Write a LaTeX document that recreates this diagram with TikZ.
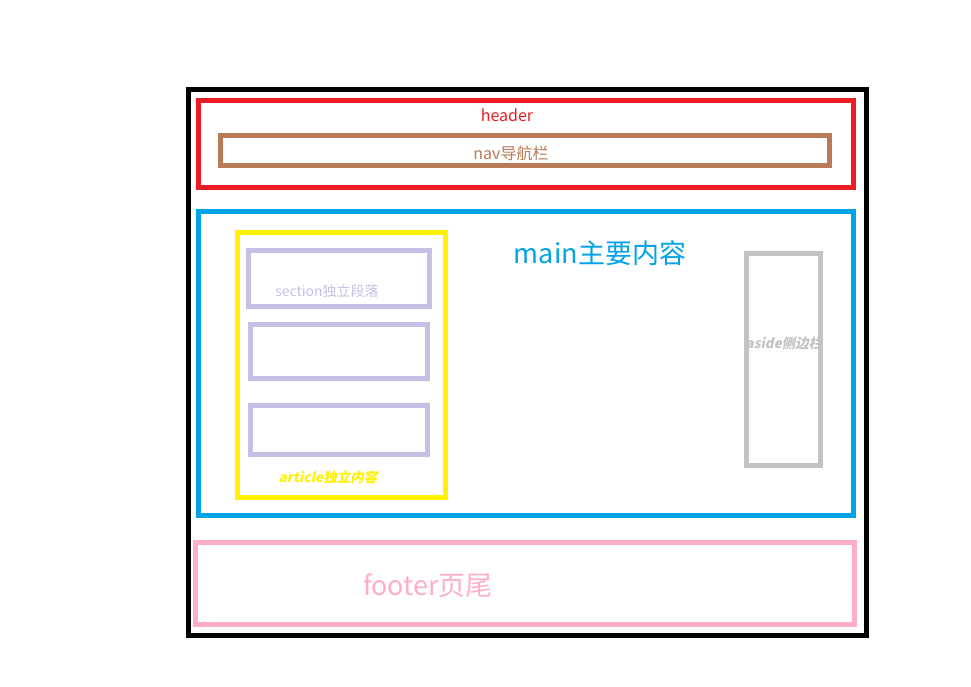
\documentclass[tikz,border=0pt]{standalone}
\usepackage{fontspec}
\setmainfont{Noto Sans CJK SC}
\newfontfamily\slantcjk{Noto Sans CJK SC}[FakeSlant=0.2]
\definecolor{pRed}{HTML}{ED1C24}
\definecolor{pBrown}{HTML}{B97A57}
\definecolor{pBlue}{HTML}{00A2E8}
\definecolor{pYellow}{HTML}{FFF200}
\definecolor{pLav}{HTML}{C8BFE7}
\definecolor{pGrey}{HTML}{C3C3C3}
\definecolor{pPink}{HTML}{FFAEC9}
\begin{document}
\begin{tikzpicture}[x=1pt,y=-1pt,
  frame/.style={line width=5pt},
  lbl/.style={inner sep=0pt,anchor=center}]
\useasboundingbox[fill=white] (0,0) rectangle (971,686);
% page frame
\draw[frame,black] (188.5,89.5) rectangle (866,635);
% header with nav bar
\draw[frame,pRed] (198.5,100.5) rectangle (853.5,187.5);
\node[lbl,text=pRed,font=\fontsize{16}{19}\selectfont] (header) at (507,115) {header};
\draw[frame,pBrown] (220.5,135.5) rectangle (829.5,165.5);
\node[lbl,text=pBrown,font=\fontsize{16}{19}\selectfont] (nav) at (511,153) {nav导航栏};
% main area
\draw[frame,pBlue] (198.5,211.5) rectangle (853.5,515.5);
\node[lbl,text=pBlue,font=\fontsize{27}{32}\selectfont] (main) at (600,253) {main主要内容};
% article with sections
\draw[frame,pYellow] (237.5,232.5) rectangle (445.5,497.5);
\draw[frame,pLav] (248.5,250.5) rectangle (429.5,306.5);
\node[lbl,text=pLav,font=\fontsize{14}{17}\selectfont] (section) at (327,291) {section独立段落};
\draw[frame,pLav] (250.5,324.5) rectangle (427.5,378.5);
\draw[frame,pLav] (250.5,405.5) rectangle (427.5,454.5);
\node[lbl,text=pYellow,font=\slantcjk\bfseries\fontsize{13.5}{16}\selectfont] (article) at (328,477) {article独立内容};
% aside column
\node[lbl,text=pGrey,font=\slantcjk\bfseries\fontsize{13.5}{16}\selectfont] (aside) at (784,343) {aside侧边栏};
\draw[frame,pGrey] (746.5,253.5) rectangle (820.5,465.5);
% footer
\draw[frame,pPink] (195.5,542.5) rectangle (854.5,624.5);
\node[lbl,text=pPink,font=\fontsize{27}{32}\selectfont] (footer) at (428,586) {footer页尾};
\end{tikzpicture}
\end{document}
